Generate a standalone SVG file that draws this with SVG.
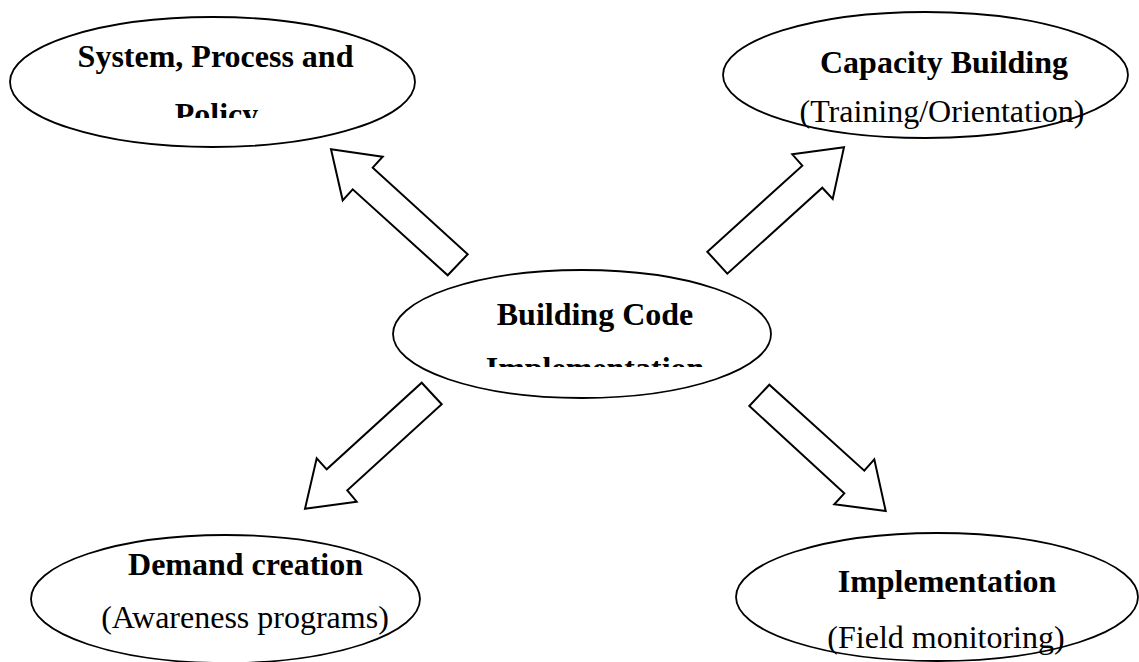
<svg xmlns="http://www.w3.org/2000/svg" width="1139" height="662" viewBox="0 0 1139 662">
<style>
.el{fill:#fff;stroke:#000;stroke-width:1.8}
.ar{fill:#fff;stroke:#000;stroke-width:2;stroke-linejoin:miter}
.b{font-family:"Liberation Serif","Times New Roman",serif;font-size:32px;font-weight:bold;text-anchor:middle;fill:#000}
.r{font-family:"Liberation Serif","Times New Roman",serif;font-size:32px;text-anchor:middle;fill:#000}
</style>
<defs>
<clipPath id="clipPolicy"><rect x="0" y="0" width="430" height="118"/></clipPath>
<clipPath id="clipImpl"><rect x="380" y="260" width="400" height="107"/></clipPath>
</defs>
<rect width="1139" height="662" fill="#fff"/>
<g id="connectors">
<polygon class="ar" points="331,149.3 382.7,156.7 372.7,167.7 467.7,254.3 447.7,275.3 352.7,189.3 342.7,200.3"/>
<polygon class="ar" points="844,147.3 792.3,154.3 802.3,165.7 707.3,251.7 727.3,273.7 822.3,187.7 832.7,199"/>
<polygon class="ar" points="305,508.7 356.7,501.7 347.3,490.3 441.7,404.3 421.7,382.7 326.7,469.3 316.7,458.3"/>
<polygon class="ar" points="885.7,511 834.3,504.3 844.3,493.3 749.3,406 769.3,384.7 864.3,470.7 874.3,459.3"/>
</g>
<g id="node-system">
<ellipse class="el" cx="212.5" cy="82" rx="202.5" ry="65"/>
<text class="b" x="215.5" y="67">System, Process and</text>
<text class="b" x="216.5" y="124.5" clip-path="url(#clipPolicy)">Policy</text>
</g>
<g id="node-capacity">
<ellipse class="el" cx="925.5" cy="75" rx="202.5" ry="63"/>
<text class="b" x="944" y="73">Capacity Building</text>
<text class="r" x="942" y="122">(Training/Orientation)</text>
</g>
<g id="node-center">
<ellipse class="el" cx="582" cy="334" rx="189" ry="64"/>
<text class="b" x="595" y="325">Building Code</text>
<text class="b" x="595" y="379" clip-path="url(#clipImpl)">Implementation</text>
</g>
<g id="node-demand">
<ellipse class="el" cx="225.5" cy="599" rx="194.5" ry="64"/>
<text class="b" x="245.5" y="575">Demand creation</text>
<text class="r" x="245" y="628">(Awareness programs)</text>
</g>
<g id="node-implementation">
<ellipse class="el" cx="937" cy="597" rx="201" ry="64"/>
<text class="b" x="947" y="592">Implementation</text>
<text class="r" x="946" y="648">(Field monitoring)</text>
</g>
</svg>
